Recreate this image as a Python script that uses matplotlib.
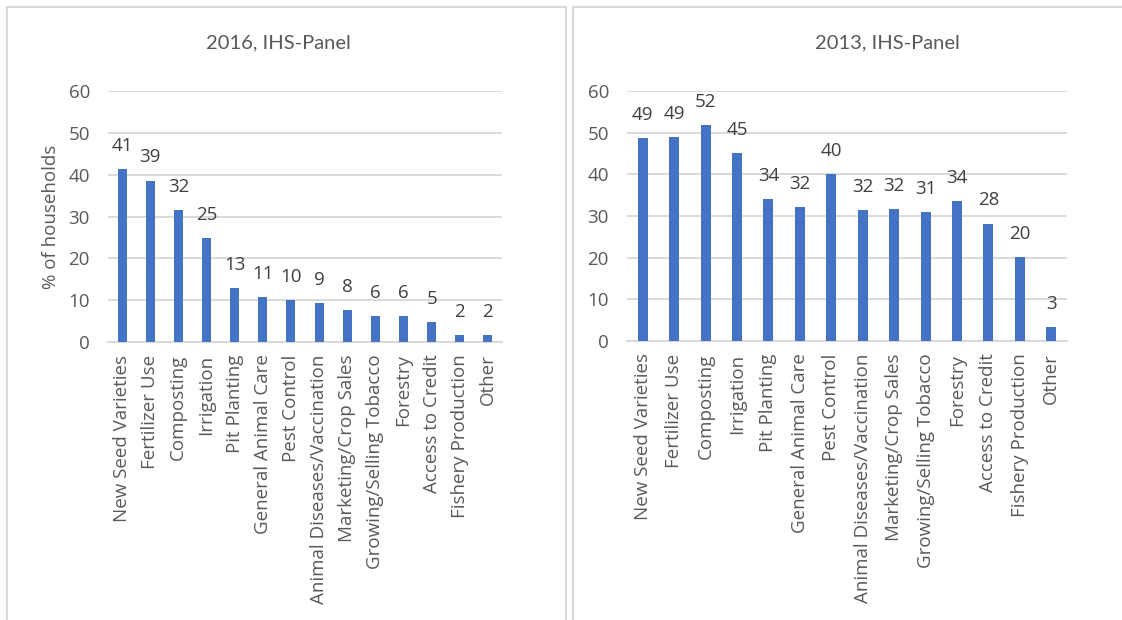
import matplotlib
matplotlib.use("Agg")
import matplotlib.pyplot as plt
from matplotlib.patches import Rectangle

# categories shared by both panels
categories = [
	"New Seed Varieties", "Fertilizer Use", "Composting", "Irrigation",
	"Pit Planting", "General Animal Care", "Pest Control",
	"Animal Diseases/Vaccination", "Marketing/Crop Sales",
	"Growing/Selling Tobacco", "Forestry", "Access to Credit",
	"Fishery Production", "Other",
]

# % of households
values_2016 = [41.3, 38.6, 31.6, 24.8, 12.9, 10.7, 10.1, 9.3, 7.7, 6.2, 6.3, 4.8, 1.7, 1.6]
values_2013 = [48.6, 48.9, 51.8, 45.1, 34.1, 32.1, 40.0, 31.5, 31.6, 31.0, 33.6, 28.2, 20.2, 3.3]

titles = ["2016, IHS-Panel", "2013, IHS-Panel"]
y_ticks = [0, 10, 20, 30, 40, 50, 60]

BAR_COLOR = "#4472C4"
GRID_COLOR = "#d9d9d9"
TEXT_COLOR = "#595959"
LABEL_COLOR = "#404040"
FONT = ["Open Sans", "DejaVu Sans"]
FS = 13.5

W, H = 1122, 620


def px_axes(left, top, right, bottom):
	"""Convert pixel box to figure fraction rect."""
	return [left / W, 1 - bottom / H, (right - left) / W, (bottom - top) / H]


def draw_panel(ax, values, ylabel=None):
	x = range(len(categories))
	ax.bar(x, values, width=0.32, color=BAR_COLOR, zorder=3)

	ax.set_xlim(-0.5, len(categories) - 0.5)
	ax.set_ylim(0, 60)
	ax.set_yticks(y_ticks)
	ax.set_xticks(list(x))
	ax.set_xticklabels(categories, rotation=90, fontfamily=FONT, fontsize=FS,
					   color=TEXT_COLOR)
	for lab in ax.get_yticklabels():
		lab.set_fontfamily(FONT)
		lab.set_fontsize(FS)
		lab.set_color(TEXT_COLOR)
	ax.tick_params(axis="both", length=0)
	ax.tick_params(axis="y", pad=13)
	ax.tick_params(axis="x", pad=9)

	ax.yaxis.grid(True, color=GRID_COLOR, linewidth=1.4, zorder=0)
	ax.set_axisbelow(True)
	for side in ["top", "right", "left"]:
		ax.spines[side].set_visible(False)
	ax.spines["bottom"].set_color(GRID_COLOR)
	ax.spines["bottom"].set_linewidth(1.4)

	# data labels above bars
	for i, v in enumerate(values):
		ax.annotate(f"{v:.0f}", (i, v), xytext=(0, 13), textcoords="offset points",
					ha="center", va="baseline", fontfamily=FONT, fontsize=FS,
					color=LABEL_COLOR)

	if ylabel:
		ax.set_ylabel(ylabel, fontfamily=FONT, fontsize=FS, color=TEXT_COLOR)
		ax.yaxis.set_label_coords(-0.122, 0.5)


fig = plt.figure(figsize=(W / 100, H / 100), dpi=100)

# panel frames
fig.patches.append(Rectangle((7 / W, -0.1), (566 - 7) / W, 1.1 - 7 / H,
							 transform=fig.transFigure, fill=False,
							 edgecolor=GRID_COLOR, linewidth=1.5))
fig.patches.append(Rectangle((573 / W, -0.1), 1.0, 1.1 - 7 / H,
							 transform=fig.transFigure, fill=False,
							 edgecolor=GRID_COLOR, linewidth=1.5))

ax1 = fig.add_axes(px_axes(108, 91, 502, 342))
ax2 = fig.add_axes(px_axes(627, 91, 1067, 341))

draw_panel(ax1, values_2016, ylabel="% of households")
draw_panel(ax2, values_2013)

fig.text(278 / W, 1 - 48 / H, titles[0], ha="center", va="baseline",
		 fontfamily="Lato", fontsize=14.5, color=TEXT_COLOR)
fig.text(887 / W, 1 - 48 / H, titles[1], ha="center", va="baseline",
		 fontfamily="Lato", fontsize=14.5, color=TEXT_COLOR)

fig.savefig("out.png", dpi=100)
